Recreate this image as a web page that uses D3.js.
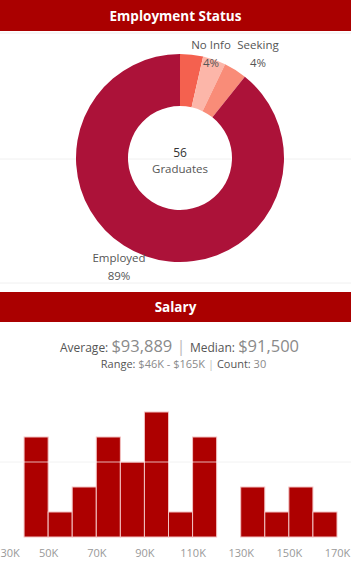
<!DOCTYPE html>
<html>
<head>
<meta charset="utf-8">
<script src="https://cdn.jsdelivr.net/npm/d3@7"></script>
<style>
body { margin: 0; background: #fff; }
svg { display: block; font-family: "Open Sans", "Noto Sans", sans-serif; }
</style>
</head>
<body>
<svg id="chart" width="351" height="565"></svg>
<script>
// donut data
var statusNames = ['Other', 'No Info', 'Seeking', 'Employed'];
var statusCounts = [2, 2, 2, 50];
var statusColors = ['#f4614f', '#fcb6a9', '#f98c78', '#ac1239'];
var statusShowLabel = [false, true, true, true];

// histogram data (10K bins)
var binStarts = [40000, 50000, 60000, 70000, 80000, 90000, 100000, 110000, 120000, 130000, 140000, 150000, 160000];
var binCounts = [4, 1, 2, 4, 3, 5, 1, 4, 0, 2, 1, 2, 1];
var tickVals = [30000, 50000, 70000, 90000, 110000, 130000, 150000, 170000];

var statsAverage = '$93,889';
var statsMedian = '$91,500';
var statsRange = '$46K - $165K';
var statsCount = '30';

var W = 351;
var svg = d3.select('#chart');

// header bars
function header(y, h, label) {
  svg.append('rect').attr('x', 0).attr('y', y).attr('width', W).attr('height', h).attr('fill', '#aa0000');
  svg.append('text').attr('x', W / 2).attr('y', y + h / 2 + 5)
    .attr('text-anchor', 'middle').attr('fill', '#fff')
    .style('font-size', '13.5px').style('font-weight', 'bold')
    .text(label);
}
header(0, 31, 'Employment Status');
svg.append('line').attr('x1', 0).attr('x2', W).attr('y1', 33).attr('y2', 33).attr('stroke', '#eeeeee');

// faint zero line through donut
svg.append('line').attr('x1', 0).attr('x2', W).attr('y1', 159).attr('y2', 159).attr('stroke', '#f0f0f0');

// donut
var cx = 180, cy = 158, rOut = 104, rIn = 52;
var total = d3.sum(statusCounts);
var pie = d3.pie().sort(null).value(function(d) { return d; });
var arcs = pie(statusCounts);
var arc = d3.arc().innerRadius(rIn).outerRadius(rOut);

var g = svg.append('g').attr('transform', 'translate(' + cx + ',' + cy + ')');
g.selectAll('path')
  .data(arcs)
  .enter()
  .append('path')
  .attr('d', arc)
  .attr('fill', function(d, i) { return statusColors[i]; });

// center label
g.append('text').attr('y', -1).attr('text-anchor', 'middle').attr('fill', '#333')
  .style('font-size', '12px').text(total);
g.append('text').attr('y', 15).attr('text-anchor', 'middle').attr('fill', '#555')
  .style('font-size', '11.5px').text('Graduates');

// slice labels
var labelPos = {
  'No Info': [31, -109],
  'Seeking': [78, -109],
  'Employed': [-61, 104]
};
arcs.forEach(function(d, i) {
  if (!statusShowLabel[i]) return;
  var p = labelPos[statusNames[i]];
  var pct = Math.round(statusCounts[i] / total * 100) + '%';
  var t = g.append('text').attr('text-anchor', 'middle').attr('fill', '#555').style('font-size', '11.5px');
  t.append('tspan').attr('x', p[0]).attr('y', p[1]).text(statusNames[i]);
  t.append('tspan').attr('x', p[0]).attr('y', p[1] + 18).text(pct);
});

svg.append('line').attr('x1', 0).attr('x2', W).attr('y1', 283).attr('y2', 283).attr('stroke', '#f0f0f0');

// salary header
header(292, 30, 'Salary');

// stats text
var s1 = svg.append('text').attr('x', W / 2 + 4).attr('y', 352).attr('text-anchor', 'middle');
s1.append('tspan').attr('fill', '#555').style('font-size', '12px').text('Average: ');
s1.append('tspan').attr('fill', '#8a8a8a').style('font-size', '16.5px').text(statsAverage);
s1.append('tspan').attr('fill', '#bbb').style('font-size', '16.5px').text(' | ');
s1.append('tspan').attr('fill', '#555').style('font-size', '12px').text('Median: ');
s1.append('tspan').attr('fill', '#8a8a8a').style('font-size', '16.5px').text(statsMedian);

var s2 = svg.append('text').attr('x', W / 2 + 8).attr('y', 368).attr('text-anchor', 'middle').style('font-size', '11px');
s2.append('tspan').attr('fill', '#555').text('Range: ');
s2.append('tspan').attr('fill', '#8a8a8a').text(statsRange);
s2.append('tspan').attr('fill', '#bbb').text(' | ');
s2.append('tspan').attr('fill', '#555').text('Count: ');
s2.append('tspan').attr('fill', '#8a8a8a').text(statsCount);

// histogram
var x = d3.scaleLinear().domain([30000, 170000]).range([0, 337]);
var y = d3.scaleLinear().domain([0, 5]).range([537, 412]);

// gridline at 3 (behind bars)
svg.append('line').attr('x1', 0).attr('x2', W).attr('y1', y(3)).attr('y2', y(3))
  .attr('stroke', '#ececec').attr('stroke-width', 1);

var bins = binStarts.map(function(b, i) { return { x0: b, x1: b + 10000, n: binCounts[i] }; })
  .filter(function(d) { return d.n > 0; });

svg.selectAll('.bar')
  .data(bins)
  .enter()
  .append('rect')
  .attr('class', 'bar')
  .attr('x', function(d) { return x(d.x0); })
  .attr('y', function(d) { return y(d.n); })
  .attr('width', function(d) { return x(d.x1) - x(d.x0); })
  .attr('height', function(d) { return y(0) - y(d.n); })
  .attr('fill', '#ad0000')
  .attr('stroke', '#f3c2c2')
  .attr('stroke-width', 1);

// gridline shows through the bars
svg.append('line').attr('x1', 0).attr('x2', W).attr('y1', y(3)).attr('y2', y(3))
  .attr('stroke', 'rgba(255,255,255,0.7)').attr('stroke-width', 1);

var xAxis = d3.axisBottom(x).tickValues(tickVals).tickSize(0).tickPadding(0)
  .tickFormat(function(d) { return (d / 1000) + 'K'; });
var ax = svg.append('g').attr('transform', 'translate(0,549)').call(xAxis);
ax.select('.domain').remove();
ax.selectAll('text').attr('fill', '#999').style('font-size', '11px').attr('dy', '0.71em')
  .style('font-family', '"Open Sans", sans-serif');
ax.selectAll('.tick').filter(function(d) { return d === 30000; }).select('text')
  .attr('text-anchor', 'start').attr('x', 0);
</script>
</body>
</html>
